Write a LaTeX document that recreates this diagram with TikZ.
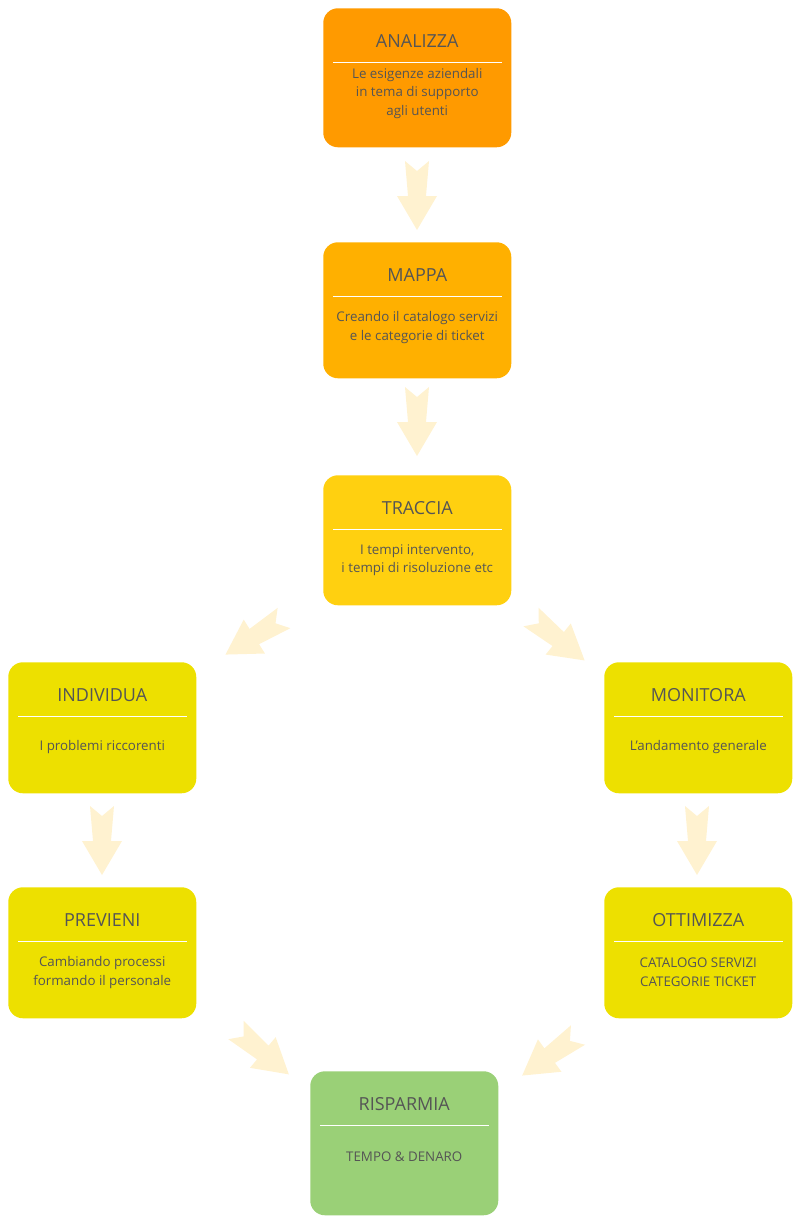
\documentclass[tikz,border=0pt]{standalone}
\usepackage{fontspec}
\setmainfont{Open Sans}
\definecolor{cAnal}{HTML}{FF9A00}
\definecolor{cMap}{HTML}{FFB000}
\definecolor{cTrac}{HTML}{FFD010}
\definecolor{cYel}{HTML}{EDE000}
\definecolor{cGreen}{HTML}{9AD077}
\definecolor{cArrow}{HTML}{FFF2D0}
\definecolor{cText}{HTML}{555555}
\tikzset{
  box/.style={draw=none,rounded corners=11pt,minimum width=141pt,anchor=north west,inner sep=0pt},
  title/.style={text=cText,font=\fontsize{13.5}{16}\selectfont,anchor=center},
  body/.style={text=cText,font=\fontsize{10}{14}\selectfont,align=center,anchor=center},
  sep/.style={white,line width=1.2pt}
}
% step: name, colour, left, top, height, title, body
\newcommand{\stepbox}[7]{%
  \node[box,fill=#2,minimum height=#5*0.75pt] (#1) at (#3,#4) {};
  \node[title] (#1t) at ([yshift=-24.5pt]#1.north) {#6};
  \draw[sep] ([xshift=7.5pt,yshift=-41pt]#1.north west) -- ([xshift=-7.5pt,yshift=-41pt]#1.north east);
  \node[body] (#1b) at ([yshift=-64pt]#1.north) {#7};
}
% fat arrow: tail point, angle
\newcommand{\fatarrow}[2]{%
  \fill[cArrow,shift={#1},rotate=#2,x=0.75pt,y=0.75pt]
    (0,-12) -- (10,0) -- (0,12) -- (35,9) -- (35,20) -- (69,0) -- (35,-20) -- (35,-9) -- cycle;
}
\begin{document}
\begin{tikzpicture}[x=0.75pt,y=-0.75pt]
  \useasboundingbox (0,0) rectangle (800,1225);
  \stepbox{anal}{cAnal}{323}{8}{139}{ANALIZZA}{Le esigenze aziendali\\in tema di supporto\\agli utenti}
  \stepbox{mapp}{cMap}{323}{242}{136}{MAPPA}{Creando il catalogo servizi\\e le categorie di ticket}
  \stepbox{trac}{cTrac}{323}{475}{130}{TRACCIA}{I tempi intervento,\\i tempi di risoluzione etc}
  \stepbox{indi}{cYel}{8}{662}{131}{INDIVIDUA}{I problemi riccorenti}
  \stepbox{moni}{cYel}{604}{662}{131}{MONITORA}{L'andamento generale}
  \stepbox{prev}{cYel}{8}{887}{131}{PREVIENI}{Cambiando processi\\formando il personale}
  \stepbox{otti}{cYel}{604}{887}{131}{OTTIMIZZA}{CATALOGO SERVIZI\\CATEGORIE TICKET}
  \stepbox{risp}{cGreen}{310}{1071}{144}{RISPARMIA}{TEMPO \& DENARO}
  \fatarrow{(417,161)}{-90}
  \fatarrow{(417,387)}{-90}
  \fatarrow{(284,618)}{-148}
  \fatarrow{(531,617)}{-39}
  \fatarrow{(102,806)}{-90}
  \fatarrow{(697,806)}{-90}
  \fatarrow{(236,1030)}{-40}
  \fatarrow{(578,1035)}{-144}
\end{tikzpicture}
\end{document}
